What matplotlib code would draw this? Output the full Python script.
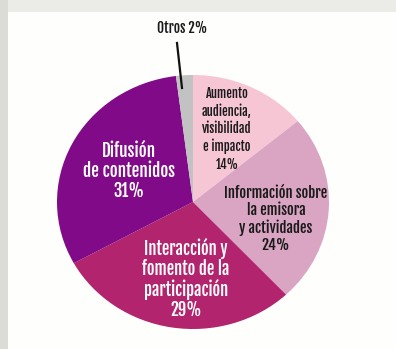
import matplotlib
matplotlib.use("Agg")
import matplotlib.pyplot as plt
from matplotlib.patches import Rectangle

# Data
categories = [
    "Aumento\naudiencia,\nvisibilidad\ne impacto",
    "Información sobre\nla emisora\ny actividades",
    "Interacción y\nfomento de la\nparticipación",
    "Difusión\nde contenidos",
    "Otros",
]
values = [14, 24, 29, 31, 2]
colors = ["#f7c6d5", "#d9a5c2", "#b2246d", "#800a88", "#c2c2c2"]
text_colors = ["#1a1a1a", "#1a1a1a", "#ffffff", "#ffffff", "#1a1a1a"]

W, H = 396, 349
fig = plt.figure(figsize=(W / 100, H / 100), dpi=100)
fig.patch.set_facecolor("#fefefc")

def fx(px):
    return px / W

def fy(py):
    return 1 - py / H

# Page frame bands
fig.patches.append(Rectangle((0, fy(12)), 1, 12 / H, transform=fig.transFigure,
                             facecolor="#ebebe7", edgecolor="none", zorder=0))
fig.patches.append(Rectangle((0, 0), 8 / W, 1, transform=fig.transFigure,
                             facecolor="#dcdcd6", edgecolor="none", zorder=0))

# Pie geometry (pixels)
cx, cy, rx, ry = 193, 202, 136, 127
ax = fig.add_axes([fx(cx - rx), fy(cy + ry), 2 * rx / W, 2 * ry / H])
ax.pie(values, colors=colors, startangle=90, counterclock=False,
       wedgeprops=dict(linewidth=0))
ax.set_aspect("auto")
ax.set_xlim(-1, 1)
ax.set_ylim(-1, 1)
ax.axis("off")

font = ["Fjalla One", "Roboto Condensed", "DejaVu Sans"]

# Label positions (pixel centers), sizes and line spacing
label_pos = [(227, 129), (276, 219), (186, 279), (129, 171)]
label_size = [9, 10.5, 12, 12.3]
label_spacing = [1.22, 1.1, 1.0, 1.0]
for cat, val, (px, py), fs, ls, tc in zip(categories, values, label_pos, label_size,
                                          label_spacing, text_colors):
    fig.text(fx(px), fy(py), f"{cat}\n{val}%", ha="center", va="center",
             fontsize=fs, fontweight="bold", color=tc, family=font,
             linespacing=ls)

# Label for the small slice, outside with a leader line
fig.text(fx(182.5), fy(28), f"{categories[4]} {values[4]}%", ha="center", va="center",
         fontsize=9.8, fontweight="bold", color="#1a1a1a", family=font)
fig.add_artist(plt.Line2D([fx(177), fx(182)], [fy(43), fy(88)], color="#111111",
                          linewidth=1.6, transform=fig.transFigure))

fig.savefig("out.png", dpi=100)
